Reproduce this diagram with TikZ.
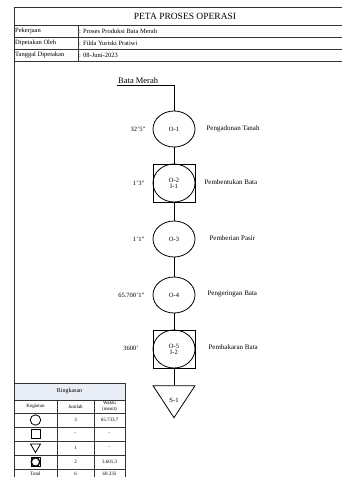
\documentclass[tikz,border=0pt]{standalone}
\usepackage{fontspec}
\setmainfont{Liberation Serif}
\usetikzlibrary{shapes.geometric}
\definecolor{rowfill}{HTML}{E9EDF5}
\tikzset{
  frameline/.style={draw=black!80, line width=0.8pt},
  opcircle/.style={
    ellipse,
    draw,
    thick,
    inner sep=0pt,
    minimum width=42pt,
    minimum height=36pt,
    align=center,
    font=\fontsize{6.5}{7}\selectfont
  },
  combobox/.style={
    rectangle,
    draw,
    thick,
    inner sep=0pt,
    minimum width=42pt,
    minimum height=38pt
  },
  storetri/.style={
    isosceles triangle,
    isosceles triangle stretches,
    shape border rotate=-90,
    draw,
    thick,
    inner sep=0pt,
    minimum width=42pt,
    minimum height=32pt
  },
  flow/.style={thick},
  timelabel/.style={anchor=east, font=\fontsize{6.5}{7}\selectfont},
  desclabel/.style={anchor=west, font=\fontsize{7}{8}\selectfont},
  formtext/.style={anchor=west, inner sep=1pt, font=\fontsize{6.5}{7}\selectfont},
  cell/.style={align=center, inner sep=0pt, font=\fontsize{5}{5.5}\selectfont}
}

\begin{document}
\begin{tikzpicture}[x=1pt, y=-1pt]
\useasboundingbox (0,0) rectangle (342,477);
\clip (0,0) rectangle (342,477);

% form header
\draw[frameline] (14,500) -- (14,7) -- (350,7);
\draw[frameline] (14,25) -- (350,25);
\draw[frameline] (14,37) -- (350,37);
\draw[frameline] (14,49) -- (350,49);
\draw[frameline] (14,61) -- (350,61);
\draw[frameline] (78,25) -- (78,61);
\node[font=\fontsize{9.5}{11}\selectfont] (title) at (185,16) {PETA PROSES OPERASI};
\node[formtext] (pek) at (14,31) {Pekerjaan};
\node[formtext] (pekval) at (78,31) {: Proses Produksi Bata Merah};
\node[formtext] (oleh) at (14,43) {Dipetakan Oleh};
\node[formtext] (olehval) at (78,43) {: Filda Yuriski Pratiwi};
\node[formtext] (tgl) at (14,55) {Tanggal Dipetakan};
\node[formtext] (tglval) at (78,55) {: 08-Juni-2023};

% process chart
\node[anchor=south west, inner sep=1pt, font=\fontsize{8.5}{10}\selectfont] (bata) at (117,85) {Bata Merah};
\node[opcircle] (o1) at (174,129) {O-1};
\node[combobox] (o2box) at (174,183) {};
\node[opcircle, minimum height=38pt] (o2) at (174,183) {O-2\\[-1pt]I-1};
\node[opcircle] (o3) at (174,239) {O-3};
\node[opcircle] (o4) at (174,295) {O-4};
\node[combobox] (o5box) at (174,349) {};
\node[opcircle, minimum height=38pt] (o5) at (174,349) {O-5\\[-1pt]I-2};
\node[storetri] (s1) at (174,397) {};
\node[font=\fontsize{6.5}{7}\selectfont] (s1txt) at (174,400) {S-1};

\node[timelabel] (t1) at (149,129) {32'5"};
\node[timelabel] (t2) at (148,183) {1'3"};
\node[timelabel] (t3) at (148,239) {1'1"};
\node[timelabel] (t4) at (148,295) {65.700'1"};
\node[timelabel] (t5) at (142,348) {3600'};

\node[desclabel] (d1) at (203,129) {Pengadonan Tanah};
\node[desclabel] (d2) at (201,182) {Pembentukan Bata};
\node[desclabel] (d3) at (206,238) {Pemberian Pasir};
\node[desclabel] (d4) at (204,294) {Pengeringan Bata};
\node[desclabel] (d5) at (205,347) {Pembakaran Bata};

\draw[flow] (bata.south west) -| (o1.north);
\draw[flow] (o1) -- (o2box);
\draw[flow] (o2box) -- (o3);
\draw[flow] (o3) -- (o4);
\draw[flow] (o4) -- (o5box);
\draw[flow] (o5box) -- (s1.north);

% summary table
\fill[rowfill] (14,383) rectangle (125,400);
\draw[frameline] (14,383) rectangle (125,490);
\foreach \yy in {400,413,427,441,455,469}
  \draw[frameline] (14,\yy) -- (125,\yy);
\draw[frameline] (57,400) -- (57,490);
\draw[frameline] (94,400) -- (94,490);
\node[font=\fontsize{6}{7}\selectfont] (ringkasan) at (69.5,391.5) {Ringkasan};
\node[cell] (hkeg) at (35.5,406.5) {Kegiatan};
\node[cell] (hjml) at (75.5,406.5) {Jumlah};
\node[cell] (hwkt) at (109.5,406.5) {Waktu\\(menit)};
% symbols
\draw[thick] (35.5,420) circle (5.2);
\draw[thick] (31,429.5) rectangle (40,438.5);
\draw[thick] (30.5,444) -- (40.5,444) -- (35.5,452.5) -- cycle;
\draw[thick] (31,457.5) rectangle (40,466.5);
\draw[line width=1.3pt] (35.5,462) circle (4.2);
\node[cell] (j1) at (75.5,420) {3};
\node[cell] (w1) at (109.5,420) {65.733,7};
\node[cell] (j2) at (75.5,434) {-};
\node[cell] (w2) at (109.5,434) {-};
\node[cell] (j3) at (75.5,448) {1};
\node[cell] (w3) at (109.5,448) {-};
\node[cell] (j4) at (75.5,462) {2};
\node[cell] (w4) at (109.5,462) {3.601,3};
\node[cell] (tot) at (35.5,473.5) {Total};
\node[cell] (jt) at (75.5,473.5) {6};
\node[cell] (wt) at (109.5,473.5) {69.335};
\end{tikzpicture}
\end{document}
